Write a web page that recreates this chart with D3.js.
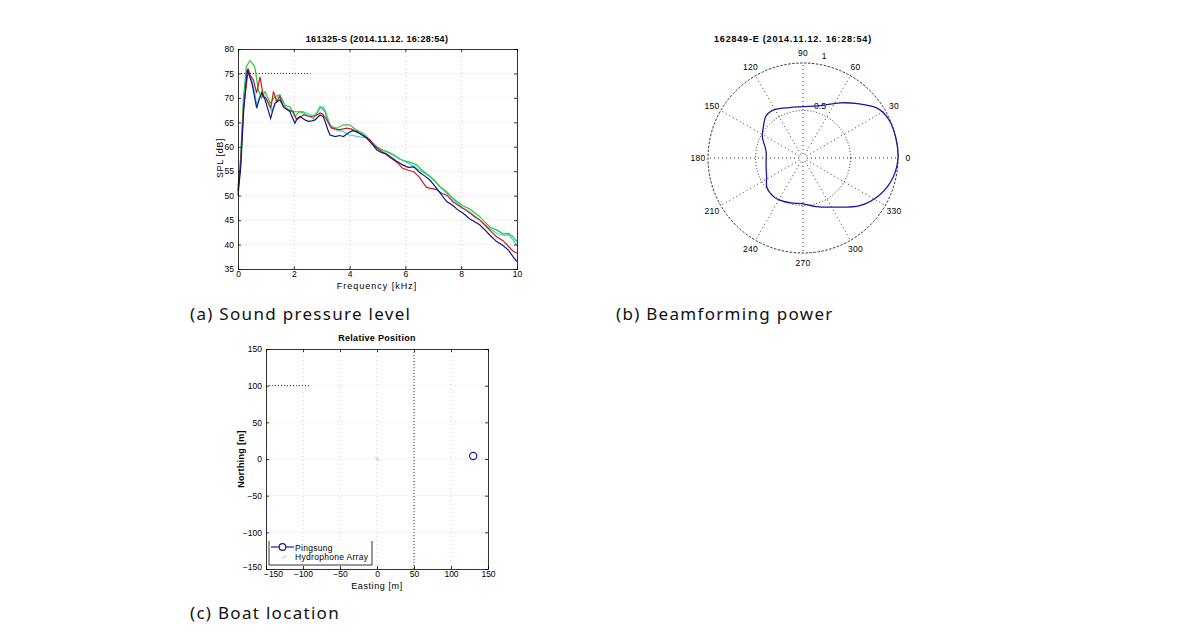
<!DOCTYPE html>
<html>
<head>
<meta charset="utf-8">
<script src="https://cdn.jsdelivr.net/npm/d3@7"></script>
<style>
  body { margin: 0; background: #fff; }
  svg { display: block; }
  text { font-family: "Liberation Sans", Arial, sans-serif; }
  .cap { font-family: "Noto Sans", sans-serif; font-size: 17px; letter-spacing: 1.3px; fill: #111; }
</style>
</head>
<body>
<svg id="fig" width="1190" height="643"></svg>
<script>
// SPL spectra, [kHz, dB]
var splBlue = [[0,50],[0.1,56],[0.2,67],[0.33,75.8],[0.5,73],[0.6,70],[0.67,67.9],[0.75,69.5],[0.85,71],[0.97,69.6],[1.08,67.5],[1.17,65.8],[1.25,67.5],[1.33,68.9],[1.5,69.6],[1.6,68.5],[1.68,67.9],[1.86,67.2],[1.95,66],[2.04,64.8],[2.12,65.8],[2.22,66.2],[2.4,65.5],[2.52,65.2],[2.65,65.3],[2.76,65.5],[2.94,66.5],[3.05,66.2],[3.12,65.2],[3.22,63.5],[3.3,62.4],[3.48,62.1],[3.65,62.3],[3.78,62.1],[3.95,62.8],[4.1,63.3],[4.25,63.1],[4.45,62.4],[4.61,61.8],[4.8,60.6],[4.97,59.4],[5.15,58.8],[5.3,58.6],[5.5,57.8],[5.7,57],[5.9,56.3],[6.1,55.8],[6.3,55.9],[6.5,54.8],[6.7,54],[6.88,53.2],[7.05,52],[7.25,50.5],[7.48,48.8],[7.7,48],[7.9,47],[8.07,46.4],[8.3,45.3],[8.5,44.6],[8.67,44],[8.85,43],[9.05,41.8],[9.27,40.6],[9.5,39.8],[9.7,38.8],[9.85,37.6],[10,36.5]]
var splRed = [[0,51],[0.1,57],[0.2,68],[0.37,76],[0.45,74.5],[0.55,73.7],[0.67,71],[0.79,74.3],[0.91,70.3],[1.0,70],[1.09,68.9],[1.18,68],[1.27,71.3],[1.39,69.2],[1.5,70.3],[1.62,68.2],[1.8,67.5],[1.98,67.2],[2.1,65.5],[2.22,66],[2.34,66.5],[2.5,66.3],[2.64,66.2],[2.8,66.4],[2.94,66.9],[3.05,66.6],[3.18,65.5],[3.36,63.8],[3.5,63.6],[3.66,63.5],[3.9,63.8],[4.07,63.6],[4.2,63.2],[4.37,62.7],[4.55,62.1],[4.73,61.4],[4.9,60.2],[5.09,59.3],[5.2,58.9],[5.33,58.3],[5.5,57.6],[5.7,56.8],[5.9,55.6],[6.1,55.2],[6.3,54.9],[6.5,53.8],[6.65,52.5],[6.76,51.7],[6.9,51.5],[7.1,51.3],[7.3,50.5],[7.48,50.1],[7.7,48.8],[7.9,48],[8.07,47.4],[8.3,46.5],[8.5,45.6],[8.67,45],[8.85,44],[9.05,42.8],[9.27,41.6],[9.5,40.8],[9.7,39.6],[9.85,38.7],[10,38.2]]
var splGreen = [[0,52],[0.07,55],[0.2,70],[0.3,76.5],[0.43,77.6],[0.6,76.4],[0.73,71.6],[0.85,70],[0.97,71.3],[1.06,70.2],[1.15,68.9],[1.33,70.3],[1.5,70.6],[1.6,69.5],[1.68,68.5],[1.86,68.2],[2.04,66.2],[2.2,67.2],[2.35,66.9],[2.46,66.5],[2.7,65.8],[2.82,66.8],[2.94,68.2],[3.12,67.2],[3.2,65.5],[3.3,64.1],[3.54,63.8],[3.78,64.5],[4.0,64.5],[4.25,63.4],[4.49,62.7],[4.73,61.4],[4.97,60],[5.2,59.3],[5.4,58.8],[5.6,58.2],[5.8,57.5],[6.0,57],[6.2,56.8],[6.4,56.3],[6.6,55.2],[6.88,53.9],[7.05,53],[7.25,51.8],[7.48,50.8],[7.7,49.5],[7.9,48.6],[8.07,47.9],[8.3,47.3],[8.5,46.4],[8.67,45.7],[8.85,44.6],[9.05,43.5],[9.27,43],[9.5,42.2],[9.7,42.3],[9.85,41.6],[10,40.6]]
var splCyan = [[0,51],[0.1,58],[0.2,70],[0.35,75.5],[0.5,73.5],[0.6,71.2],[0.67,68.6],[0.85,71.3],[1.03,69.6],[1.21,67.2],[1.39,69.9],[1.5,70.6],[1.6,69.2],[1.74,67.9],[1.98,67.2],[2.16,67.2],[2.34,67.2],[2.58,66.5],[2.76,66.5],[2.94,67.9],[3.06,68.2],[3.15,67],[3.3,64.5],[3.54,63.4],[3.78,63.1],[4.0,62.4],[4.3,62.1],[4.61,61.8],[4.97,59.7],[5.2,59.3],[5.4,58.9],[5.6,58.3],[5.8,57.5],[6.0,57],[6.3,56],[6.6,54.9],[6.88,54],[7.05,53.1],[7.25,51.7],[7.48,50.5],[7.7,49.3],[7.9,48.3],[8.07,47.4],[8.3,46.7],[8.5,45.8],[8.67,45],[8.85,44],[9.05,43.2],[9.27,42.3],[9.5,41.9],[9.7,42],[9.85,41],[10,39.9]]
var splSeries = [
  {data: splCyan, color: "#2fd6d6"},
  {data: splGreen, color: "#2ec82e"},
  {data: splRed, color: "#c82020"},
  {data: splBlue, color: "#14148c"}
]
var splXTicks = [0, 2, 4, 6, 8, 10]
var splYTicks = [35, 40, 45, 50, 55, 60, 65, 70, 75, 80]

// beam power, [deg, normalised]
var beamAngle = [0, 12, 24, 34, 45, 56, 72, 90, 105, 120, 131, 142, 153, 165, 173, 185, 194, 207, 219, 230, 240, 255, 269, 285, 302, 320, 335, 348]
var beamPower = [1.0, 1.0, 0.99, 0.94, 0.81, 0.70, 0.58, 0.54, 0.55, 0.59, 0.59, 0.53, 0.48, 0.41, 0.39, 0.39, 0.40, 0.43, 0.49, 0.51, 0.51, 0.49, 0.48, 0.53, 0.61, 0.78, 0.90, 0.97]
var polarSpokes = [0, 30, 60, 90, 120, 150, 180, 210, 240, 270, 300, 330]

// relative position, [m]
var pingPos = [[130, 4]]
var arrayPos = [[0, 0]]
var posTicks = [-150, -100, -50, 0, 50, 100, 150]

var svg = d3.select("#fig")

function gridLines(g, x, y, xt, yt){
  g.append("g").selectAll("line").data(xt.slice(1, -1)).enter().append("line")
    .attr("x1", x).attr("x2", x).attr("y1", y.range()[0]).attr("y2", y.range()[1])
    .attr("stroke", "#c8c8c8").attr("stroke-width", 0.8).attr("stroke-dasharray", "1,3")
  g.append("g").selectAll("line").data(yt.slice(1, -1)).enter().append("line")
    .attr("y1", y).attr("y2", y).attr("x1", x.range()[0]).attr("x2", x.range()[1])
    .attr("stroke", "#c8c8c8").attr("stroke-width", 0.8).attr("stroke-dasharray", "1,3")
}

function axes(g, x, y, xt, yt){
  var x0 = x.range()[0], x1 = x.range()[1], y0 = y.range()[0], y1 = y.range()[1]
  var ax = [
    [d3.axisBottom(x).tickValues(xt), `translate(0,${y0})`, 2],
    [d3.axisTop(x).tickValues(xt).tickFormat(""), `translate(0,${y1})`, 3],
    [d3.axisLeft(y).tickValues(yt), `translate(${x0},0)`, 4],
    [d3.axisRight(y).tickValues(yt).tickFormat(""), `translate(${x1},0)`, 3]
  ]
  var out = []
  ax.forEach((a) => {
    var s = g.append("g").attr("transform", a[1])
      .call(a[0].tickSize(-3).tickPadding(a[2]))
    s.select(".domain").attr("stroke", "#000").attr("stroke-width", 0.8)
    s.selectAll(".tick line").attr("stroke", "#000").attr("stroke-width", 0.8)
    s.selectAll("text").attr("font-size", 8.5).attr("fill", "#000")
    out.push(s)
  })
  return out
}

function label(g, x, y, txt, opts){
  opts = opts || {}
  var t = g.append("text").attr("text-anchor", "middle")
    .attr("font-size", opts.size || 9)
    .attr("letter-spacing", opts.ls || 0)
    .attr("font-weight", opts.bold ? "bold" : "normal")
    .text(txt)
  if (opts.rotate) t.attr("transform", `translate(${x},${y}) rotate(-90)`)
  else t.attr("x", x).attr("y", y)
  return t
}

// (a) SPL
var sx = d3.scaleLinear([0, 10], [238, 517]),
    sy = d3.scaleLinear([35, 80], [269, 49]),
    gA = svg.append("g")
gridLines(gA, sx, sy, splXTicks, splYTicks)
gA.append("line").attr("x1", sx(0)).attr("x2", sx(2.6)).attr("y1", sy(75)).attr("y2", sy(75))
  .attr("stroke", "#000").attr("stroke-width", 0.8).attr("stroke-dasharray", "1,2")
var splLine = d3.line().x((d) => sx(d[0])).y((d) => sy(d[1]))
gA.append("g").selectAll("path").data(splSeries).enter().append("path")
  .attr("d", (d) => splLine(d.data))
  .attr("fill", "none").attr("stroke", (d) => d.color).attr("stroke-width", 1.2)
axes(gA, sx, sy, splXTicks, splYTicks)
label(gA, 377, 42, "161325-S (2014.11.12. 16:28:54)", {bold: true, ls: 0.3})
label(gA, 377, 289, "Frequency [kHz]", {ls: 1})
label(gA, 223, 158, "SPL [dB]", {rotate: true, ls: 0.6})

// (b) polar beam
var cx = 803, cy = 158,
    pr = d3.scaleLinear([0, 1], [0, 95]),
    gB = svg.append("g").attr("transform", `translate(${cx},${cy})`)
gB.append("circle").attr("r", pr(1)).attr("fill", "none").attr("stroke", "#000")
  .attr("stroke-width", 0.8).attr("stroke-dasharray", "2.5,1.5")
gB.append("circle").attr("r", pr(0.5)).attr("fill", "none").attr("stroke", "#000")
  .attr("stroke-width", 0.8).attr("stroke-dasharray", "1,2")
gB.selectAll("line.spoke").data(polarSpokes).enter().append("line").attr("class", "spoke")
  .attr("x1", (d) => 4 * Math.cos(d * Math.PI / 180))
  .attr("y1", (d) => -4 * Math.sin(d * Math.PI / 180))
  .attr("x2", (d) => pr(1) * Math.cos(d * Math.PI / 180))
  .attr("y2", (d) => -pr(1) * Math.sin(d * Math.PI / 180))
  .attr("stroke", "#000").attr("stroke-width", 0.8).attr("stroke-dasharray", "1,3")
gB.selectAll("text.ang").data(polarSpokes).enter().append("text").attr("class", "ang")
  .attr("x", (d) => 105 * Math.cos(d * Math.PI / 180))
  .attr("y", (d) => -105 * Math.sin(d * Math.PI / 180) + 3)
  .attr("text-anchor", "middle").attr("font-size", 8.5).attr("letter-spacing", 0.3).text((d) => d)
gB.append("text").attr("x", 21).attr("y", -99).attr("text-anchor", "middle").attr("font-size", 8.5).text("1")
gB.append("text").attr("x", 17).attr("y", -49).attr("text-anchor", "middle").attr("font-size", 8.5).text("0.5")
var beamLine = d3.lineRadial()
  .angle((d, i) => Math.PI / 2 - beamAngle[i] * Math.PI / 180)
  .radius((d) => pr(d))
  .curve(d3.curveCardinalClosed)
gB.append("path").attr("d", beamLine(beamPower))
  .attr("fill", "none").attr("stroke", "#1a1a9a").attr("stroke-width", 1.3)
label(svg, 793, 42, "162849-E (2014.11.12. 16:28:54)", {bold: true, ls: 0.8})

// (c) relative position
var px = d3.scaleLinear([-150, 150], [266, 488]),
    py = d3.scaleLinear([-150, 150], [569, 349]),
    gC = svg.append("g")
gridLines(gC, px, py, posTicks, posTicks)
gC.append("line").attr("x1", px(50)).attr("x2", px(50)).attr("y1", py(150)).attr("y2", py(-150))
  .attr("stroke", "#000").attr("stroke-width", 0.8).attr("stroke-dasharray", "1,2")
gC.append("line").attr("x1", px(-150)).attr("x2", px(-90)).attr("y1", py(100)).attr("y2", py(100))
  .attr("stroke", "#000").attr("stroke-width", 0.8).attr("stroke-dasharray", "1,2")
gC.selectAll("line.arr").data(arrayPos).enter().append("line").attr("class", "arr")
  .attr("x1", (d) => px(d[0]) - 1.5).attr("y1", (d) => py(d[1]) - 1.5)
  .attr("x2", (d) => px(d[0]) + 1.5).attr("y2", (d) => py(d[1]) + 1.5)
  .attr("stroke", "#888").attr("stroke-width", 0.8)
gC.selectAll("circle.ping").data(pingPos).enter().append("circle").attr("class", "ping")
  .attr("cx", (d) => px(d[0])).attr("cy", (d) => py(d[1])).attr("r", 3.6)
  .attr("fill", "none").attr("stroke", "#1a1a9a").attr("stroke-width", 1.2)
var posAxes = axes(gC, px, py, posTicks, posTicks)
// first easting label sits a little right of its tick, as in the figure
posAxes[0].selectAll(".tick text").filter((d) => d === -150).attr("dx", 7)
posAxes[2].selectAll(".tick text").filter((d) => d === -150).attr("dy", "0.1em")
label(gC, 377, 341, "Relative Position", {bold: true, ls: 0.3})
label(gC, 377, 589, "Easting [m]", {ls: 0.6})
label(gC, 244, 459, "Northing [m]", {rotate: true, bold: true, ls: 0.3})
// legend
var lg = gC.append("g").attr("transform", "translate(269,541)")
lg.append("path").attr("d", "M0,0V24H103V0").attr("fill", "#fff")
  .attr("stroke", "#000").attr("stroke-width", 0.8)
lg.append("line").attr("x1", 2).attr("x2", 25).attr("y1", 6).attr("y2", 6)
  .attr("stroke", "#1a1a9a").attr("stroke-width", 1.2)
lg.append("circle").attr("cx", 13.5).attr("cy", 6).attr("r", 3.3)
  .attr("fill", "#fff").attr("stroke", "#1a1a9a").attr("stroke-width", 1.2)
lg.append("line").attr("x1", 14).attr("x2", 17).attr("y1", 17.5).attr("y2", 14.5)
  .attr("stroke", "#888").attr("stroke-width", 0.8)
lg.append("text").attr("x", 26).attr("y", 9.5).attr("font-size", 8.5).attr("letter-spacing", 0.3).text("Pingsung")
lg.append("text").attr("x", 26).attr("y", 19).attr("font-size", 8.5).attr("letter-spacing", 0.3).text("Hydrophone Array")

// captions
svg.append("text").attr("class", "cap").attr("x", 190).attr("y", 320).text("(a) Sound pressure level")
svg.append("text").attr("class", "cap").attr("x", 616).attr("y", 320).text("(b) Beamforming power")
svg.append("text").attr("class", "cap").attr("x", 190).attr("y", 619).text("(c) Boat location")
</script>
</body>
</html>
